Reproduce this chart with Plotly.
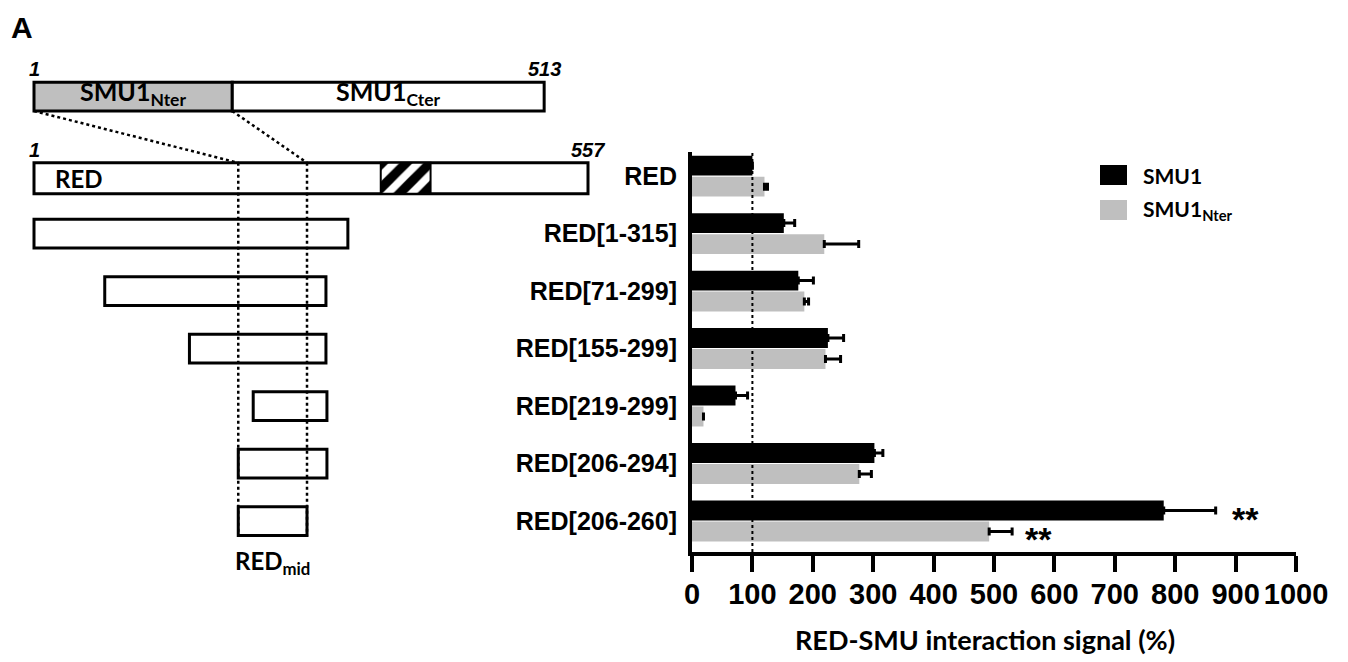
import plotly.graph_objects as go

# The page body keeps its default 8 px margin, so the figure is drawn 8 px in;
# it is sized so that it ends exactly at the 1348x662 window edges.
PAGE_OFF = 8
W, H = 1348 - PAGE_OFF, 662 - PAGE_OFF

# ---------------- data ----------------
categories = ["RED", "RED[1-315]", "RED[71-299]", "RED[155-299]",
              "RED[219-299]", "RED[206-294]", "RED[206-260]"]
smu1_values = [100, 152, 176, 225, 72, 302, 781]
smu1_errors = [0, 18, 25, 26, 20, 14, 86]
nter_values = [120, 219, 186, 221, 19, 277, 492]
nter_errors = [5, 57, 7, 25, 0, 20, 38]
signif_smu1 = ["", "", "", "", "", "", "**"]
signif_nter = ["", "", "", "", "", "", "**"]
x_ticks = [0, 100, 200, 300, 400, 500, 600, 700, 800, 900, 1000]
reference_level = 100

# schematic (residue positions as drawn)
smu1_length = 513
smu1_domain_names = ["SMU1<sub>Nter</sub>", "SMU1<sub>Cter</sub>"]
smu1_domain_start = [1, 200]
smu1_domain_end = [200, 513]
red_length = 557
hatch_start = 349
hatch_end = 399
frag_start = [1, 72, 157, 221, 206, 206]   # drawn extents of the 6 fragments
frag_end = [316, 294, 294, 295, 295, 275]
red_mid_start = 206
red_mid_end = 275

# ---------------- layout helpers ----------------
BOLD_SANS = "Liberation Sans, Arial, sans-serif"
CALIBRI = "Lato, Open Sans, sans-serif"
GRAY = "#bfbfbf"


def px(x):   # window pixel -> paper x
    return (x - PAGE_OFF) / W


def py(y):   # window pixel -> paper y
    return 1 - (y - PAGE_OFF) / H


rows = list(range(len(categories)))
fig = go.Figure()

# ---------------- bar chart ----------------
fig.add_trace(go.Bar(
    y=rows, x=smu1_values, orientation="h", name="SMU1",
    marker=dict(color="black", line=dict(width=0)),
    error_x=dict(type="data", array=smu1_errors, arrayminus=[0] * 7,
                 symmetric=False, color="black", thickness=3, width=4),
    xaxis="x", yaxis="y", showlegend=False))
fig.add_trace(go.Bar(
    y=rows, x=nter_values, orientation="h", name="SMU1<sub>Nter</sub>",
    marker=dict(color=GRAY, line=dict(width=0)),
    error_x=dict(type="data", array=nter_errors, arrayminus=[0] * 7,
                 symmetric=False, color="black", thickness=3, width=4),
    xaxis="x", yaxis="y", showlegend=False))

x_dom = [px(692), px(1296)]
y_dom = [py(552), py(152)]

annotations = []
shapes = []

star_font = dict(family=BOLD_SANS, size=34, color="black", weight="bold")
for i in rows:
    if signif_smu1[i]:
        annotations.append(dict(x=smu1_values[i] + smu1_errors[i], y=i - 0.18,
                                xref="x", yref="y", text=signif_smu1[i],
                                showarrow=False, xanchor="left", xshift=14, yshift=-8,
                                font=star_font))
    if signif_nter[i]:
        annotations.append(dict(x=nter_values[i] + nter_errors[i], y=i + 0.18,
                                xref="x", yref="y", text=signif_nter[i],
                                showarrow=False, xanchor="left", xshift=11, yshift=-8,
                                font=star_font))

# reference dotted line at 100 %
shapes.append(dict(type="line", xref="x", yref="y domain", x0=reference_level, x1=reference_level,
                   y0=0, y1=1, line=dict(color="black", width=2, dash="dot")))

# legend (manual)
legend_items = [("SMU1", "black"), ("SMU1<sub>Nter</sub>", GRAY)]
for k, (lab, col) in enumerate(legend_items):
    yc = 175 + 35 * k
    shapes.append(dict(type="rect", xref="paper", yref="paper",
                       x0=px(1100), x1=px(1127), y0=py(yc + 10), y1=py(yc - 10),
                       fillcolor=col, line=dict(width=0)))
    annotations.append(dict(x=px(1141), y=py(yc), xref="paper", yref="paper",
                            text=lab, showarrow=False, xanchor="left", yanchor="middle",
                            font=dict(family=CALIBRI, size=21, color="black", weight="bold")))

# axis title
annotations.append(dict(x=px(985), y=py(639), xref="paper", yref="paper",
                        text="RED-SMU interaction signal (%)", showarrow=False,
                        xanchor="center", yanchor="middle",
                        font=dict(family=CALIBRI, size=27, color="black", weight="bold")))

# panel letter
annotations.append(dict(x=px(9), y=py(27), xref="paper", yref="paper", text="A",
                        showarrow=False, xanchor="left", yanchor="middle",
                        font=dict(family=BOLD_SANS, size=30, color="black", weight="bold")))

# ---------------- schematic (x2 / y2 in residue & row units) ----------------
px_per_res = 554 / 556
res1_px = 34 - PAGE_OFF
x2_range = [1 - res1_px / px_per_res, 1 + (W - res1_px) / px_per_res]
row_px = 57.5
row0_px = 176 - PAGE_OFF
y2_range = [(H - row0_px) / row_px, -row0_px / row_px]

smu1_row = -1.38
smu1_h = 0.50
red_row = 0.04
red_h = 0.54
frag_h = 0.50

box_line = dict(color="black", width=3)
fig.add_trace(go.Bar(
    y=[smu1_row] * 2, base=smu1_domain_start,
    x=[e - s for s, e in zip(smu1_domain_start, smu1_domain_end)],
    orientation="h", width=[smu1_h] * 2, offset=-smu1_h / 2,
    marker=dict(color=[GRAY, "white"], line=box_line),
    xaxis="x2", yaxis="y2", showlegend=False, hoverinfo="skip"))
fig.add_trace(go.Bar(
    y=[red_row], base=[1], x=[red_length - 1], orientation="h", width=[red_h], offset=-red_h / 2,
    marker=dict(color="white", line=box_line),
    xaxis="x2", yaxis="y2", showlegend=False, hoverinfo="skip"))
fig.add_trace(go.Bar(
    y=[red_row], base=[hatch_start], x=[hatch_end - hatch_start], orientation="h",
    width=[red_h], offset=-red_h / 2,
    marker=dict(color="white", line=dict(color="black", width=2),
                pattern=dict(shape="/", fgcolor="black", bgcolor="white", fgopacity=1,
                             size=17, solidity=0.55)),
    xaxis="x2", yaxis="y2", showlegend=False, hoverinfo="skip"))
fig.add_trace(go.Bar(
    y=rows[1:], base=frag_start, x=[e - s for s, e in zip(frag_start, frag_end)],
    orientation="h", width=[frag_h] * len(frag_start), offset=-frag_h / 2,
    marker=dict(color="white", line=box_line),
    xaxis="x2", yaxis="y2", showlegend=False, hoverinfo="skip"))

dot_line = dict(color="black", width=2.5, dash="dot")
smu1_bottom = smu1_row + smu1_h / 2
red_top = red_row - red_h / 2
last_bottom = rows[-1] + frag_h / 2
fig.add_trace(go.Scatter(x=[smu1_domain_start[0], red_mid_start], y=[smu1_bottom, red_top],
                         mode="lines", line=dot_line, xaxis="x2", yaxis="y2",
                         showlegend=False, hoverinfo="skip"))
fig.add_trace(go.Scatter(x=[smu1_domain_end[0], red_mid_end], y=[smu1_bottom, red_top],
                         mode="lines", line=dot_line, xaxis="x2", yaxis="y2",
                         showlegend=False, hoverinfo="skip"))
for xv in (red_mid_start, red_mid_end):
    fig.add_trace(go.Scatter(x=[xv, xv], y=[red_top, last_bottom], mode="lines",
                             line=dot_line, xaxis="x2", yaxis="y2",
                             showlegend=False, hoverinfo="skip"))

num_font = dict(family=BOLD_SANS, size=20, color="black", weight="bold", style="italic")
lab_font = dict(family=CALIBRI, size=25, color="black", weight="bold")
for xv, yv, t in [(1, smu1_row - smu1_h / 2, "1"), (smu1_length, smu1_row - smu1_h / 2, str(smu1_length)),
                  (1, red_top, "1"), (red_length, red_top, str(red_length))]:
    annotations.append(dict(x=xv, y=yv, xref="x2", yref="y2", text=t, showarrow=False,
                            xanchor="center", yanchor="bottom", yshift=0, font=num_font))
for s, e, t in zip(smu1_domain_start, smu1_domain_end, smu1_domain_names):
    annotations.append(dict(x=(s + e) / 2, y=smu1_row, xref="x2", yref="y2", text=t,
                            showarrow=False, xanchor="center", yanchor="middle", yshift=4,
                            font=lab_font))
annotations.append(dict(x=1, y=red_row, xref="x2", yref="y2", text="RED", showarrow=False,
                        xanchor="left", yanchor="middle", xshift=19,
                        font=dict(family=CALIBRI, size=24, color="black", weight="bold")))
annotations.append(dict(x=(red_mid_start + red_mid_end) / 2, y=rows[-1] + 0.72, xref="x2", yref="y2",
                        text="RED<sub>mid</sub>", showarrow=False, xanchor="center",
                        yanchor="middle", font=dict(family=CALIBRI, size=24, color="black", weight="bold")))

fig.update_layout(
    template="none",
    width=W, height=H, margin=dict(l=0, r=0, t=0, b=0, pad=0, autoexpand=False),
    paper_bgcolor="white", plot_bgcolor="rgba(0,0,0,0)",
    barmode="group", bargap=0.27, bargroupgap=0.05,
    showlegend=False,
    xaxis=dict(domain=x_dom, range=[0, 1000], tickvals=x_ticks,
               ticktext=[str(v) for v in x_ticks], automargin=False, tickangle=0,
               showline=True, linecolor="black", linewidth=4, mirror=False,
               ticks="outside", ticklen=16, tickwidth=4, tickcolor="black",
               tickfont=dict(family=BOLD_SANS, size=29, color="black", weight="bold"),
               ticklabelstandoff=-3,
               showgrid=False, zeroline=False, anchor="y", fixedrange=True),
    yaxis=dict(domain=y_dom, range=[6.54, -0.42], tickvals=rows, ticktext=categories,
               automargin=False,
               showline=True, linecolor="black", linewidth=4, ticks="",
               tickfont=dict(family=BOLD_SANS, size=25, color="black", weight="bold"),
               ticklabelstandoff=6,
               showgrid=False, zeroline=False, anchor="x", fixedrange=True),
    xaxis2=dict(domain=[0, 1], range=x2_range, visible=False, anchor="y2",
                automargin=False, fixedrange=True),
    yaxis2=dict(domain=[0, 1], range=y2_range, visible=False, anchor="x2",
                automargin=False, fixedrange=True),
    annotations=annotations, shapes=shapes,
)

fig.write_html("out.html")
